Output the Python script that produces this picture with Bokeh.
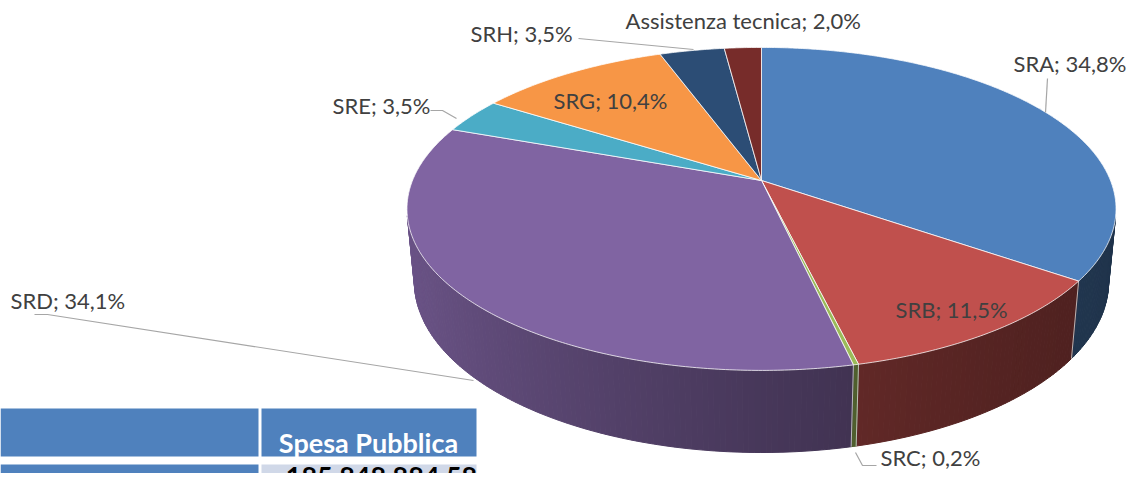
import math
import numpy as np
from bokeh.plotting import figure
from bokeh.models import Range1d, ColumnDataSource
from bokeh.embed import file_html
from bokeh.resources import INLINE
from bokeh.core.properties import value

# ---------------- data ----------------
categories = ["SRA", "SRB", "SRC", "SRD", "SRE", "SRG", "SRH", "Assistenza tecnica"]
shares = [34.8, 11.5, 0.2, 34.1, 3.5, 10.4, 3.5, 2.0]
colors = ["#4f81bd", "#c0504d", "#9bbb59", "#8064a2", "#4bacc6", "#f79646", "#2c4d75", "#772c2a"]
table_header = ["", "Spesa Pubblica"]
table_row = ["", "185.848.884,58"]

# ---------------- layout / style ----------------
PW, PH = 1127, 473
CX, CY, R = 761, 180, 349
COS_T, SIN_T = 0.4484, 0.8938
DIST = 5.08
THICK = 0.235

# label placement (left x, centre y) and leader lines, in page pixels
label_pos = [(1013, 63), (895, 309), (880, 457), (10, 300), (332, 105), (553, 100), (470, 33), (625, 20)]
leaders = {
    0: ([1047, 1045], [78, 112]),
    2: ([855, 862, 876], [452, 465, 465]),
    3: ([34, 47, 473], [314, 314, 380]),
    4: ([430, 442, 456], [110, 110, 118]),
    6: ([578, 693], [38, 49]),
}

LABEL_FONT = "Lato"
LABEL_COLOR = "#404040"


def proj(u, v, depth=0.0):
    X = u
    Y = v * COS_T - depth * SIN_T
    Z = v * SIN_T + depth * COS_T
    s = DIST / (DIST + Z)
    return CX + R * X * s, CY - R * Y * s


def hex_to_rgb(h):
    h = h.lstrip("#")
    return tuple(int(h[i:i + 2], 16) for i in (0, 2, 4))


def shade(h, f):
    r, g, b = hex_to_rgb(h)
    return "#%02x%02x%02x" % tuple(max(0, min(255, int(round(c * f)))) for c in (r, g, b))


p = figure(width=PW, height=PH, x_range=Range1d(0, PW), y_range=Range1d(PH, 0),
           output_backend="svg", toolbar_location=None, min_border=0,
           x_axis_location=None, y_axis_location=None)
p.grid.visible = False
p.outline_line_color = None
p.background_fill_color = "white"
p.border_fill_color = "white"

total = sum(shares)
bounds = np.concatenate([[0.0], np.cumsum(shares)]) / total * 2 * math.pi

# ---- side walls (front-facing strips) ----
sx, sy, sc = [], [], []
edge_x, edge_y = [], []
for i, (a0, a1) in enumerate(zip(bounds[:-1], bounds[1:])):
    n = max(2, int(math.ceil((a1 - a0) / math.radians(0.8))))
    th = np.linspace(a0, a1, n + 1)
    for k in range(n):
        t0, t1 = th[k], th[k + 1]
        p0 = proj(math.sin(t0), math.cos(t0))
        p1 = proj(math.sin(t1), math.cos(t1))
        b1 = proj(math.sin(t1), math.cos(t1), THICK)
        b0 = proj(math.sin(t0), math.cos(t0), THICK)
        pts = [p0, p1, b1, b0]
        area = sum(pts[j][0] * pts[(j + 1) % 4][1] - pts[(j + 1) % 4][0] * pts[j][1] for j in range(4))
        if area < 0:
            um = math.sin((t0 + t1) / 2)
            f = 0.40 + 0.44 * ((1 - um) / 2) ** 1.5
            sx.append([q[0] for q in pts])
            sy.append([q[1] for q in pts])
            sc.append(shade(colors[i], f))
    u, v = math.sin(a0), math.cos(a0)
    if v < -0.2:
        pa = proj(u, v)
        pb = proj(u, v, THICK)
        edge_x.append([pa[0], pb[0]])
        edge_y.append([pa[1], pb[1]])

p.patches(xs="xs", ys="ys", source=ColumnDataSource(dict(xs=sx, ys=sy, c=sc)),
          fill_color="c", line_color="c", line_width=1.0)
p.multi_line(xs=edge_x, ys=edge_y, line_color="#d9d9d9", line_width=1, line_alpha=0.8)

# ---- top faces ----
tx, ty = [], []
for i, (a0, a1) in enumerate(zip(bounds[:-1], bounds[1:])):
    n = max(2, int(math.ceil((a1 - a0) / math.radians(0.5))))
    th = np.linspace(a0, a1, n + 1)
    xs = [CX]
    ys = [CY]
    for t in th:
        q = proj(math.sin(t), math.cos(t))
        xs.append(q[0])
        ys.append(q[1])
    tx.append(xs)
    ty.append(ys)
p.patches(xs="xs", ys="ys", source=ColumnDataSource(dict(xs=tx, ys=ty, c=colors)),
          fill_color="c", line_color="white", line_width=0.9, line_alpha=0.85)

# ---- leader lines ----
p.multi_line(xs=[v[0] for v in leaders.values()], ys=[v[1] for v in leaders.values()],
             line_color="#a6a6a6", line_width=1.2)

# ---- labels ----
def fmt(v):
    return ("%.1f" % v).replace(".", ",") + "%"

labels = ["%s; %s" % (c, fmt(s)) for c, s in zip(categories, shares)]
p.text(x=[lp[0] for lp in label_pos], y=[lp[1] for lp in label_pos], text=labels,
       text_font=value(LABEL_FONT), text_font_size="22px", text_color=LABEL_COLOR,
       text_align="left", text_baseline="middle")

# ---- table fragment ----
p.quad(left=[0, 261, 0, 261], right=[258, 476, 258, 476], top=[408, 408, 464, 464],
       bottom=[456, 456, 495, 495], fill_color=["#4f81bd", "#4f81bd", "#4f81bd", "#d0d8e8"],
       line_color=None)
p.text(x=[368], y=[442], text=[table_header[1]], text_font=value("Lato"), text_font_style="bold",
       text_font_size="27px", text_color="white", text_align="center", text_baseline="middle")
p.text(x=[381], y=[466], text=[table_row[1]], text_font=value("Lato"), text_font_style="bold",
       text_font_size="27px", text_color="black", text_align="center", text_baseline="top")

open("out.html", "w").write(file_html(p, INLINE))
